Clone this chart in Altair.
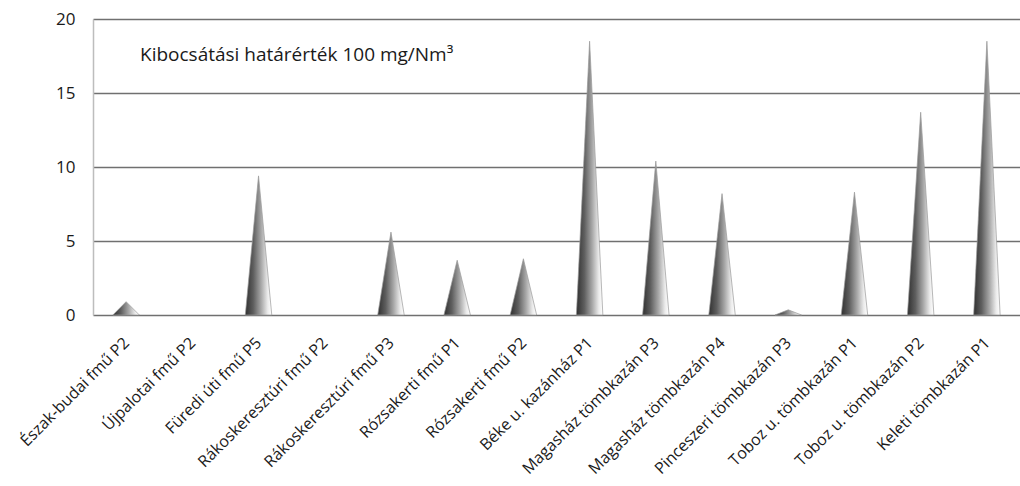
import altair as alt
import pandas as pd

categories = [
    "Észak-budai fmű P2", "Újpalotai fmű P2", "Füredi úti fmű P5",
    "Rákoskeresztúri fmű P2", "Rákoskeresztúri fmű P3", "Rózsakerti fmű P1",
    "Rózsakerti fmű P2", "Béke u. kazánház P1", "Magasház tömbkazán P3",
    "Magasház tömbkazán P4", "Pinceszeri tömbkazán P3", "Toboz u. tömbkazán P1",
    "Toboz u. tömbkazán P2", "Keleti tömbkazán P1",
]
values = [0.9, 0.0, 9.4, 0.0, 5.6, 3.7, 3.8, 18.5, 10.4, 8.2, 0.35, 8.3, 13.7, 18.5]
y_ticks = [0, 5, 10, 15, 20]
note = "Kibocsátási határérték 100 mg/Nm³"

HW = 0.2  # half base width of each spike, in category units
rows = []
for i, v in enumerate(values):
    if v <= 0:
        continue
    rows += [
        {"g": i, "x": i - HW, "y": 0.0},
        {"g": i, "x": i, "y": v},
        {"g": i, "x": i + HW, "y": 0.0},
    ]
df = pd.DataFrame(rows)

label_arr = "[" + ",".join("'" + c + "'" for c in categories) + "]"

grad = alt.Gradient(
    gradient="linear", x1=0, y1=0, x2=1, y2=0,
    stops=[
        alt.GradientStop(color="#303030", offset=0.0),
        alt.GradientStop(color="#5e5e5e", offset=0.3),
        alt.GradientStop(color="#a8a8a8", offset=0.6),
        alt.GradientStop(color="#ececec", offset=0.85),
        alt.GradientStop(color="#ffffff", offset=1.0),
    ],
)

FONT = "Open Sans"

x_enc = alt.X("x:Q", scale=alt.Scale(domain=[-0.5, len(categories) - 0.5], nice=False, zero=False),
              axis=alt.Axis(values=list(range(len(categories))), labelExpr=label_arr + "[datum.value]",
                            title=None, grid=False, ticks=False, domain=False,
                            labelAngle=-45, labelAlign="right", labelBaseline="middle",
                            labelPadding=25, labelFont=FONT, labelFontSize=16, labelLimit=0,
                            labelColor="#1a1a1a", labelOverlap=False, labelBound=False, labelFlush=False))
y_enc = alt.Y("y:Q", scale=alt.Scale(domain=[0, 20], nice=False),
              axis=alt.Axis(values=y_ticks, title=None, grid=True, gridColor="#707070", gridWidth=1.5,
                            ticks=False, domain=True, domainColor="#bdbdbd", domainWidth=1.5,
                            labelPadding=18, labelFont=FONT, labelFontSize=17, labelColor="#1a1a1a"))

base = alt.Chart(df)
layers = []
for i, v in enumerate(values):
    if v <= 0:
        continue
    layers.append(
        base.transform_filter(alt.datum.g == i)
        .mark_area(color=grad, opacity=1, stroke="#9a9a9a", strokeWidth=0.7)
        .encode(x=x_enc, y=y_enc)
    )

text = alt.Chart(pd.DataFrame({"t": [note]})).mark_text(
    align="left", baseline="middle", font=FONT, fontSize=19, color="#1a1a1a"
).encode(text="t:N", x=alt.value(47), y=alt.value(36))

chart = alt.layer(*layers, text).properties(
    width=927, height=296,
    padding={"left": 93, "top": 19, "right": 0, "bottom": 171},
    autosize=alt.AutoSizeParams(type="none"),
).configure_view(stroke=None).configure(background="white")

chart.save("out.html", embed_options={"renderer": "svg", "actions": False})
